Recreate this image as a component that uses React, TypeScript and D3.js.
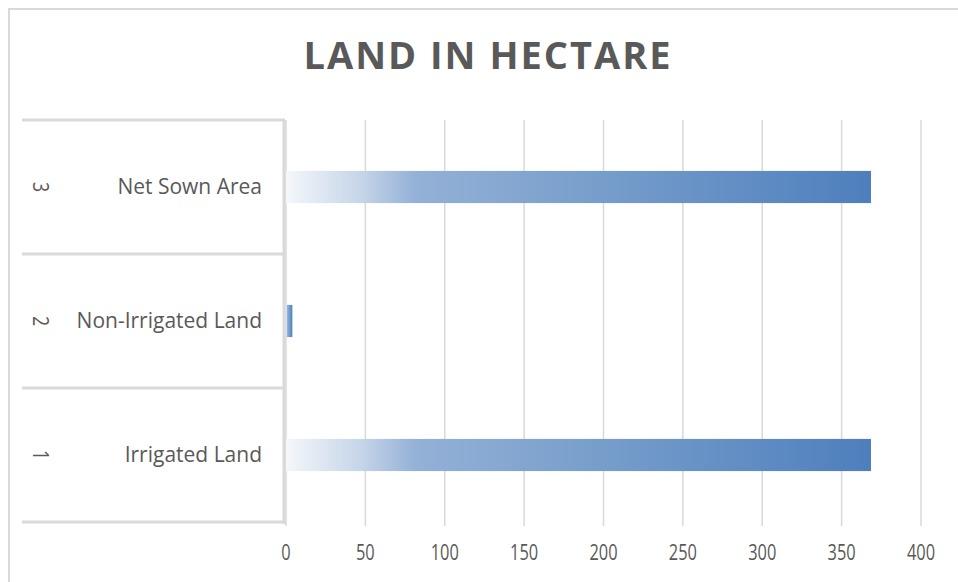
import React from "react";
import * as d3 from "d3";

const categories = ["Irrigated Land", "Non-Irrigated Land", "Net Sown Area"];
const indices = ["1", "2", "3"];
const values = [368.5, 4, 368.5];
const xTicks = [0, 50, 100, 150, 200, 250, 300, 350, 400];
const title = "LAND IN HECTARE";

const W = 958;
const H = 582;
const FONT = "'Open Sans', sans-serif";

export default function App() {
  const x = d3.scaleLinear().domain([0, 400]).range([286, 921]);
  const order = [2, 1, 0];
  const y = d3
    .scaleBand<number>()
    .domain(order)
    .range([120, 522])
    .paddingInner(0.76)
    .paddingOuter(0.38);
  const step = y.step();
  const top = 120;
  const bottom = 522;
  const gridColor = "#d9d9d9";

  return (
    <svg
      width={W}
      height={H}
      style={{ position: "absolute", left: 0, top: 0, background: "#fff" }}
    >
      <defs>
        <linearGradient id="barGrad" x1="0" x2="1" y1="0" y2="0">
          <stop offset="0" stopColor="#f4f7fb" />
          <stop offset="0.13" stopColor="#c5d4e8" />
          <stop offset="0.22" stopColor="#94b1d7" />
          <stop offset="0.5" stopColor="#7aa0cc" />
          <stop offset="1" stopColor="#4e7fbd" />
        </linearGradient>
      </defs>
      {/* outer chart border */}
      <path d={`M9,${H + 5} V9 H${W + 5}`} fill="none" stroke={gridColor} strokeWidth={2} />
      {/* title */}
      <text
        x={488}
        y={69}
        textAnchor="middle"
        fontFamily={FONT}
        fontWeight={700}
        fontSize={38}
        letterSpacing={2}
        fill="#595959"
      >
        {title}
      </text>
      {/* gridlines */}
      {xTicks.map((t) => (
        <line
          key={"g" + t}
          x1={x(t)}
          x2={x(t)}
          y1={top}
          y2={bottom + 4}
          stroke={gridColor}
          strokeWidth={1.5}
        />
      ))}
      {/* bars */}
      {values.map((v, i) => (
        <rect
          key={"b" + i}
          x={x(0)}
          y={y(i)!}
          width={x(v) - x(0)}
          height={y.bandwidth()}
          fill="url(#barGrad)"
        />
      ))}
      {/* category axis */}
      <line x1={284} x2={284} y1={top} y2={bottom + 2} stroke={gridColor} strokeWidth={3} />
      {[0, 1, 2, 3].map((k) => (
        <line
          key={"h" + k}
          x1={22}
          x2={285}
          y1={top + k * step}
          y2={top + k * step}
          stroke={gridColor}
          strokeWidth={3}
        />
      ))}
      {values.map((_, i) => {
        const cy = y(i)! + y.bandwidth() / 2;
        return (
          <g key={"l" + i}>
            <text
              x={262}
              y={cy}
              dy="0.35em"
              textAnchor="end"
              fontFamily={FONT}
              fontSize={21}
              fill="#595959"
            >
              {categories[i]}
            </text>
            <text
              transform={`translate(40,${cy}) rotate(90) scale(0.85,1)`}
              dy="0.35em"
              textAnchor="middle"
              fontFamily={FONT}
              fontSize={21}
              fill="#595959"
            >
              {indices[i]}
            </text>
          </g>
        );
      })}
      {/* value axis labels */}
      {xTicks.map((t) => (
        <text
          key={"t" + t}
          transform={`translate(${x(t)},553) scale(0.78,1)`}
          dy="0.35em"
          textAnchor="middle"
          fontFamily={FONT}
          fontSize={21}
          fill="#595959"
        >
          {t}
        </text>
      ))}
    </svg>
  );
}
